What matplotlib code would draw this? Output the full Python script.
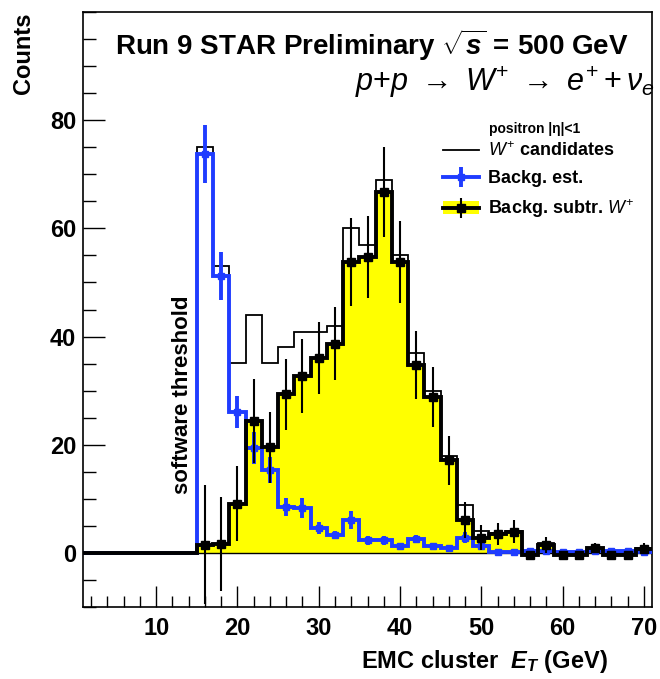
import numpy as np
import matplotlib
matplotlib.use("Agg")
import matplotlib.pyplot as plt
from matplotlib.lines import Line2D
from matplotlib.patches import Patch
from matplotlib.ticker import MultipleLocator

plt.rcParams['font.family'] = ['Liberation Sans', 'DejaVu Sans']
plt.rcParams['font.weight'] = 'bold'
plt.rcParams['mathtext.fontset'] = 'custom'
plt.rcParams['mathtext.rm'] = 'Liberation Sans:normal'
plt.rcParams['mathtext.it'] = 'Liberation Sans:italic:normal'
plt.rcParams['mathtext.bf'] = 'Liberation Sans:bold'
plt.rcParams['mathtext.bfit'] = 'Liberation Sans:italic:bold'

# ---- data (2 GeV bins, 1..71 GeV) ----
bin_edges = np.arange(1, 72, 2)
bin_centers = np.arange(2, 71, 2)

candidates = [0, 0, 0, 0, 0, 0, 0,
              75.0, 53.0, 35.2, 43.9, 35.2, 38.0, 40.8, 40.8, 42.0, 60.0,
              57.0, 69.0, 55.0, 37.0, 30.0, 18.0, 8.8, 4.1, 3.7, 4.0,
              0.0, 1.8, 0.0, 0.0, 1.0, 0.0, 0.0, 1.0]

background = [0, 0, 0, 0, 0, 0, 0,
              73.7, 51.2, 26.1, 19.4, 15.3, 8.5, 8.3, 4.6, 3.3, 6.1,
              2.3, 2.3, 1.2, 2.6, 1.2, 0.9, 2.8, 1.3, 0.2, 0.2,
              0.3, 0.3, 0.2, 0.2, 0.3, 0.3, 0.3, 0.2]
background_err = [0, 0, 0, 0, 0, 0, 0,
                  5.4, 4.4, 3.0, 2.9, 2.4, 1.7, 1.9, 1.1, 0.8, 1.7,
                  0.8, 0.8, 0.6, 0.8, 0.6, 0.5, 1.0, 0.6, 0.3, 0.3,
                  0.3, 0.3, 0.3, 0.3, 0.3, 0.3, 0.3, 0.3]

subtracted = [0, 0, 0, 0, 0, 0, 0,
              1.5, 1.7, 9.1, 24.4, 19.5, 29.3, 32.7, 36.0, 38.7, 53.8,
              54.7, 66.7, 53.8, 34.7, 28.8, 17.1, 6.1, 2.8, 3.5, 3.9,
              -0.3, 1.5, -0.3, -0.3, 0.9, -0.3, -0.3, 0.8]
subtracted_err = [0, 0, 0, 0, 0, 0, 0,
                  11.0, 8.7, 6.9, 7.7, 6.5, 6.6, 6.8, 6.6, 6.8, 8.1,
                  7.6, 8.3, 7.6, 6.3, 5.5, 4.5, 3.4, 2.3, 2.0, 2.1,
                  0.5, 1.5, 0.5, 0.5, 1.0, 0.5, 0.5, 1.0]

x_ticks = [10, 20, 30, 40, 50, 60, 70]
y_ticks = [0, 20, 40, 60, 80]

BLUE = '#1f3cff'
YELLOW = '#ffff00'

cand = np.array(candidates)
bkg = np.array(background)
bkg_e = np.array(background_err)
sub = np.array(subtracted)
sub_e = np.array(subtracted_err)
mask = sub_e > 0

fig = plt.figure(figsize=(6.6, 6.79), dpi=100)
ax = fig.add_axes([83/660, 1-607/679, (652-83)/660, (607-12)/679])

# yellow filled background-subtracted histogram
ax.stairs(np.clip(sub, 0, None), bin_edges, fill=True, color=YELLOW, zorder=1)
# W+ candidates (thin)
ax.stairs(cand, bin_edges, color='black', lw=1.3, zorder=3)
# background estimate (blue)
ax.stairs(bkg, bin_edges, color=BLUE, lw=2.8, baseline=None, zorder=4)
ax.errorbar(bin_centers[mask], bkg[mask], yerr=bkg_e[mask], fmt='s', color=BLUE,
            ms=5, elinewidth=2.8, capsize=0, zorder=5)
# background subtracted (thick black)
ax.stairs(sub, bin_edges, color='black', lw=2.8, baseline=None, zorder=6)
ax.errorbar(bin_centers[mask], sub[mask], yerr=sub_e[mask], fmt='s', color='black',
            ms=6, elinewidth=1.5, capsize=0, zorder=7)
ax.axhline(0, color='black', lw=1.0, zorder=2)

ax.set_xlim(1, 71)
ax.set_ylim(-10, 100)
ax.set_xticks(x_ticks)
ax.set_yticks(y_ticks)
ax.xaxis.set_minor_locator(MultipleLocator(2))
ax.yaxis.set_minor_locator(MultipleLocator(5))
ax.tick_params(axis='x', which='major', direction='in', length=15, width=1, labelsize=17, pad=7)
ax.tick_params(axis='x', which='minor', direction='in', length=8, width=1)
ax.tick_params(axis='y', which='major', direction='in', length=16, width=1, labelsize=17, pad=5)
ax.tick_params(axis='y', which='minor', direction='in', length=9, width=1)
for lab in ax.get_xticklabels() + ax.get_yticklabels():
    lab.set_fontweight('bold')
for s in ax.spines.values():
    s.set_linewidth(1.2)

ax.text(-0.104, 1.0, 'Counts', transform=ax.transAxes, rotation=90,
        ha='center', va='top', fontsize=17, fontweight='bold')
ax.text(0.923, -0.092, r'EMC cluster  $\mathbfit{E}_{\mathbfit{T}}$ (GeV)', transform=ax.transAxes,
        ha='right', va='center', fontsize=17, fontweight='bold')

ax.text(0.508, 0.945, r'Run 9 STAR Preliminary $\sqrt{\mathbfit{s}}\,\mathbf{=}\,$500 GeV', transform=ax.transAxes,
        ha='center', va='center', fontsize=20, fontweight='bold')
ax.text(1.005, 0.882, r'$p\mathrm{+}p \ \rightarrow\ W^{+} \ \rightarrow\ e^{+} + \nu_{e}$', transform=ax.transAxes,
        ha='right', va='center', fontsize=22)
ax.text(0.793, 0.803, 'positron |η|<1', transform=ax.transAxes,
        ha='center', va='center', fontsize=10, fontweight='bold')
ax.text(13.2, 29.2, 'software threshold', rotation=90, ha='center', va='center',
        fontsize=16, fontweight='bold')

h1 = Line2D([], [], color='black', lw=1.3)
h2 = (Line2D([], [], color=BLUE, lw=2.8, marker='s', ms=5),
      Line2D([], [], color=BLUE, lw=0, marker='|', ms=14, mew=2.8))
h3 = (Patch(facecolor=YELLOW, edgecolor='none'),
      Line2D([], [], color='black', lw=2.8, marker='s', ms=6),
      Line2D([], [], color='black', lw=0, marker='|', ms=14, mew=1.5))
leg = ax.legend([h1, h2, h3], [r'$W^{+}$ candidates', 'Backg. est.', r'Backg. subtr. $W^{+}$'],
                loc='upper left', bbox_to_anchor=((443-83)/569, 0.782), frameon=False,
                borderpad=0, borderaxespad=0, handlelength=2.0,
                handletextpad=0.5, labelspacing=0.55, prop={'weight': 'bold', 'size': 13})

fig.savefig('out.png', dpi=100)
